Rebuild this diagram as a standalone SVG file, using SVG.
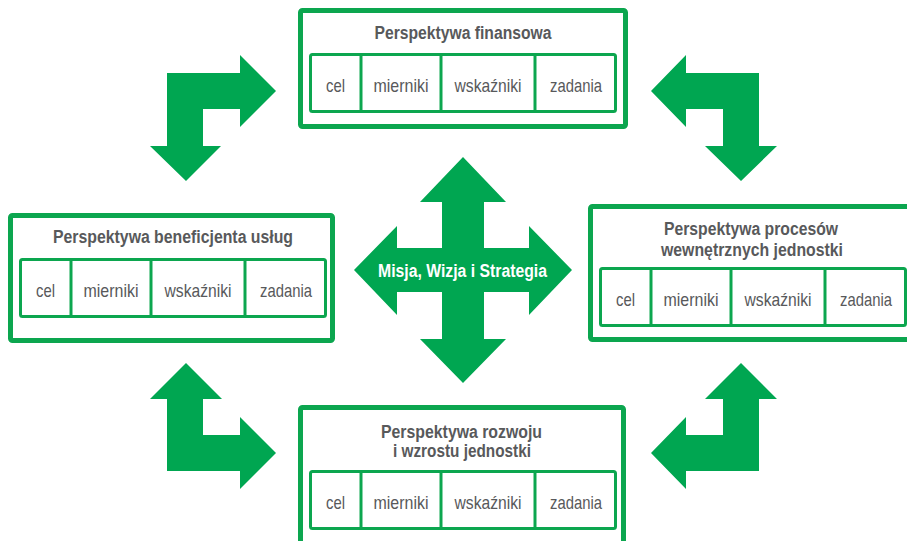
<svg xmlns="http://www.w3.org/2000/svg" width="907" height="541" viewBox="0 0 907 541">
  <style>
    .frame { fill: #ffffff; stroke: #0ca64f; stroke-width: 5; }
    .table { fill: #ffffff; stroke: #0ca64f; stroke-width: 3; }
    .div { stroke: #0ca64f; stroke-width: 3; }
    .arrow { fill: #00a651; }
    .title { font-family: "Liberation Sans Narrow", "Liberation Sans", Arial, sans-serif; font-weight: bold; font-size: 18px; fill: #58595b; text-anchor: middle; }
    .cell { font-family: "Liberation Sans Narrow", "Liberation Sans", Arial, sans-serif; font-size: 19px; fill: #58595b; text-anchor: middle; }
    .core { font-family: "Liberation Sans Narrow", "Liberation Sans", Arial, sans-serif; font-weight: bold; font-size: 18px; fill: #ffffff; text-anchor: middle; }
  </style>
  <defs>
    <!-- shared four-column table: cel / mierniki / wskaźniki / zadania -->
    <g id="cols">
      <rect class="table" x="1.5" y="1.5" width="305" height="57" rx="2"/>
      <line class="div" x1="52" y1="1.5" x2="52" y2="58.5"/>
      <line class="div" x1="132" y1="1.5" x2="132" y2="58.5"/>
      <line class="div" x1="226" y1="1.5" x2="226" y2="58.5"/>
      <text class="cell" x="26.5" y="39" textLength="19" lengthAdjust="spacingAndGlyphs">cel</text>
      <text class="cell" x="92" y="39" textLength="55" lengthAdjust="spacingAndGlyphs">mierniki</text>
      <text class="cell" x="179" y="39" textLength="67" lengthAdjust="spacingAndGlyphs">wskaźniki</text>
      <text class="cell" x="267" y="39" textLength="52" lengthAdjust="spacingAndGlyphs">zadania</text>
    </g>
  </defs>

  <rect width="907" height="541" fill="#ffffff"/>

  <!-- connectors: corner arrows and central cross -->
  <g id="connectors">
    <polygon class="arrow" points="167,73 240,73 240,55 276,91 240,127 240,109 203,109 203,146 221,146 186,181 150,146 167,146"/>
    <polygon class="arrow" points="651,91 686,55 686,73 759,73 759,146 777,146 741,181 705,146 723,146 723,109 686,109 686,127"/>
    <polygon class="arrow" points="186,363 222,399 203,399 203,435 240,435 240,417 276,453 240,489 240,471 167,471 167,399 150,399"/>
    <polygon class="arrow" points="741,363 777,399 759,399 759,471 686,471 686,489 651,453 686,417 686,435 723,435 723,399 705,399"/>
  </g>

  <g id="core">
    <polygon class="arrow" points="463,157 506,202 484,202 484,248 529,248 529,226 572,270 529,315 529,292 484,292 484,339 506,339 463,383 420,339 442,339 442,292 397,292 397,315 354,270 397,226 397,248 442,248 442,202 420,202"/>
    <text class="core" x="462.5" y="277" textLength="169" lengthAdjust="spacingAndGlyphs">Misja, Wizja i Strategia</text>
  </g>

  <g id="finansowa">
    <rect class="frame" x="300.5" y="10.5" width="325" height="116" rx="2"/>
    <text class="title" x="463" y="38.5" textLength="177" lengthAdjust="spacingAndGlyphs">Perspektywa finansowa</text>
    <use href="#cols" x="309" y="53"/>
  </g>

  <g id="beneficjent">
    <rect class="frame" x="10.5" y="215.5" width="322" height="125" rx="2"/>
    <text class="title" x="173" y="243" textLength="240" lengthAdjust="spacingAndGlyphs">Perspektywa beneficjenta usług</text>
    <use href="#cols" x="19" y="258"/>
  </g>

  <g id="procesy">
    <rect class="frame" x="590.5" y="206.5" width="330" height="133" rx="2"/>
    <text class="title" x="751" y="234.5" textLength="174" lengthAdjust="spacingAndGlyphs">Perspektywa procesów</text>
    <text class="title" x="752" y="256" textLength="182" lengthAdjust="spacingAndGlyphs">wewnętrznych jednostki</text>
    <use href="#cols" x="599" y="267"/>
  </g>

  <g id="rozwoj">
    <rect class="frame" x="300.5" y="407.5" width="323" height="150" rx="2"/>
    <text class="title" x="461.5" y="437.5" textLength="161" lengthAdjust="spacingAndGlyphs">Perspektywa rozwoju</text>
    <text class="title" x="462" y="457" textLength="138" lengthAdjust="spacingAndGlyphs">i wzrostu jednostki</text>
    <use href="#cols" x="309" y="470"/>
  </g>
</svg>
